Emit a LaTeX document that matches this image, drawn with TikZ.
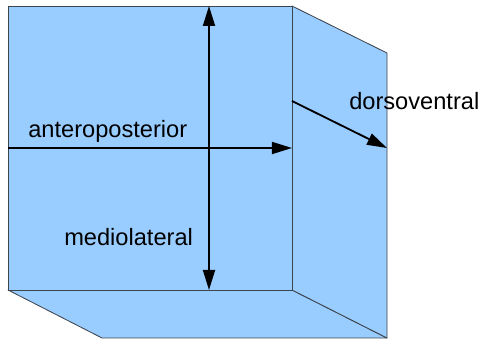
\documentclass[tikz,border=0pt]{standalone}
\usepackage{fontspec}
\setmainfont{Liberation Sans}
\usetikzlibrary{arrows.meta}

\definecolor{faceblue}{RGB}{153,204,255}
\definecolor{edgegray}{RGB}{60,68,78}

\begin{document}
\begin{tikzpicture}[x=0.025cm,y=-0.025cm,
  >={Triangle[length=0.5cm,width=0.3cm]},
  face/.style={fill=faceblue,draw=edgegray,line width=0.6pt,line join=round},
  axis/.style={line width=1.3pt},
  lbl/.style={anchor=base west,inner sep=0pt,font=\fontsize{16.8}{20}\selectfont}]
\useasboundingbox (0,0) rectangle (480,339);
% cube corners
\coordinate (ftl) at (8,6);
\coordinate (ftr) at (292,6);
\coordinate (fbr) at (292,290);
\coordinate (fbl) at (8,290);
\coordinate (btr) at (387,53);
\coordinate (bbr) at (387,338);
\coordinate (bbl) at (102,338);
% faces
\draw[face] (fbl) -- (fbr) -- (bbr) -- (bbl) -- cycle;
\draw[face] (ftr) -- (btr) -- (bbr) -- (fbr) -- cycle;
\draw[face] (ftl) rectangle (fbr);
% axis ends
\coordinate (mtop) at (209,6);
\coordinate (mbot) at (209,290);
\coordinate (aleft) at (8,148);
\coordinate (aright) at (292,148);
\coordinate (dstart) at (292,101);
\coordinate (dend) at (387,148);
\draw[axis,<->] (mtop) -- (mbot);
\draw[axis,->] (aleft) -- (aright);
\draw[axis,->] (dstart) -- (dend);
% labels
\node[lbl] (ap) at (28,138) {anteroposterior};
\node[lbl] (ml) at (64,246) {mediolateral};
\node[lbl] (dv) at (349,110) {dorsoventral};
\end{tikzpicture}
\end{document}
